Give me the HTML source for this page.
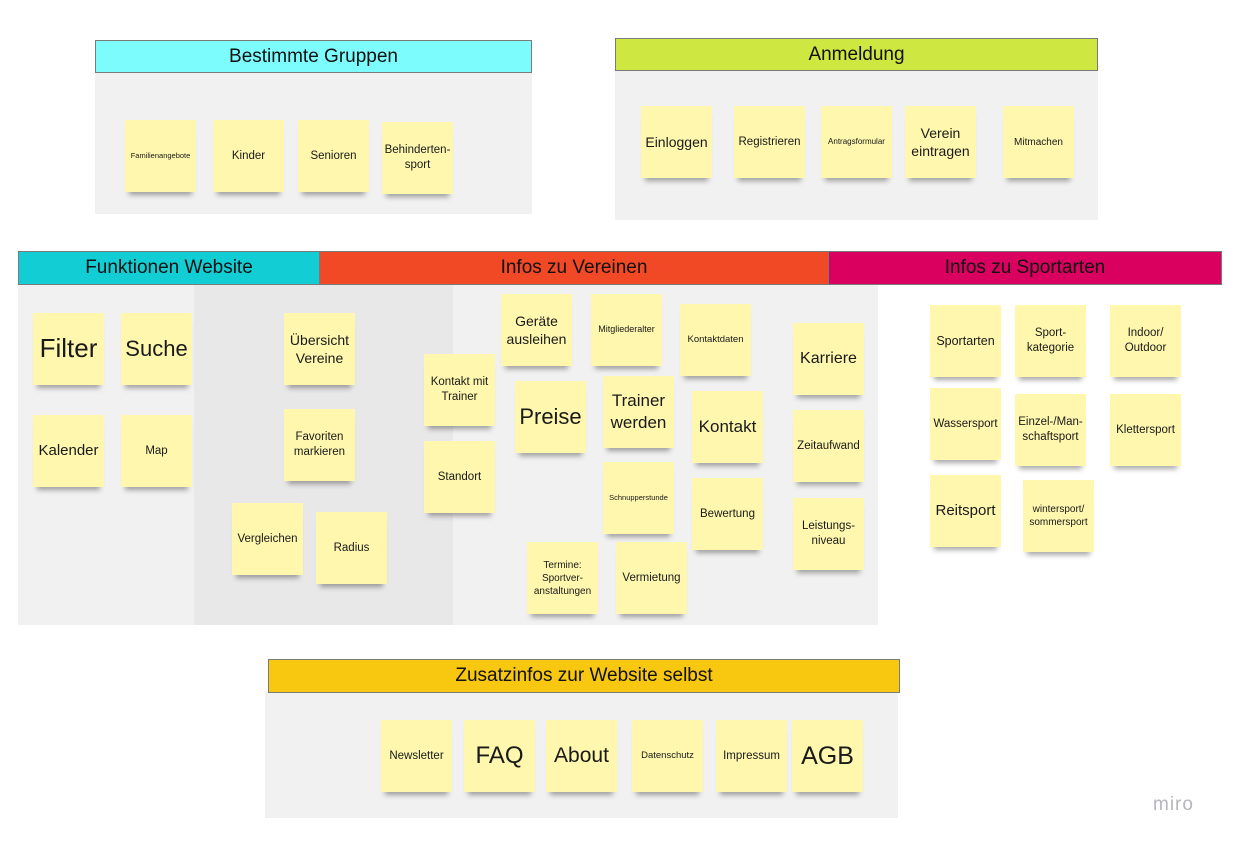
<!DOCTYPE html>
<html><head><meta charset="utf-8"><style>
body{margin:0;width:1240px;height:843px;background:#fff;position:relative;overflow:hidden;font-family:"Liberation Sans",sans-serif;color:#1a1a1a}
.a{position:absolute}
.h{position:absolute;box-sizing:border-box;border:1px solid #7a7a7a;display:flex;align-items:center;justify-content:center;font-size:19px;color:#111}
.p{position:absolute;background:#f1f1f1}
.s{position:absolute;width:71px;height:72px;background:#fef7ad;display:flex;align-items:center;justify-content:center;text-align:center;font-size:11.5px;line-height:1.3;box-shadow:0 7px 5px -4px rgba(0,0,0,0.35)}
</style></head><body>
<div class="p" style="left:95px;top:72px;width:437px;height:142px"></div>
<div class="h" style="left:95px;top:40px;width:437px;height:33px;background:#7dfcfe">Bestimmte Gruppen</div>
<div class="s" style="left:125px;top:120px;font-size:7.5px">Familienangebote</div>
<div class="s" style="left:213px;top:120px">Kinder</div>
<div class="s" style="left:298px;top:120px">Senioren</div>
<div class="s" style="left:382px;top:122px">Behinderten-<br>sport</div>

<div class="p" style="left:615px;top:70px;width:483px;height:150px"></div>
<div class="h" style="left:615px;top:38px;width:483px;height:33px;background:#cee841">Anmeldung</div>
<div class="s" style="left:641px;top:106px;font-size:14px">Einloggen</div>
<div class="s" style="left:734px;top:106px">Registrieren</div>
<div class="s" style="left:821px;top:106px;font-size:8px">Antragsformular</div>
<div class="s" style="left:905px;top:106px;font-size:14px">Verein<br>eintragen</div>
<div class="s" style="left:1003px;top:106px;font-size:10px">Mitmachen</div>

<div class="p" style="left:18px;top:284px;width:860px;height:341px"></div>
<div class="a" style="left:194px;top:284px;width:259px;height:341px;background:#e8e8e8"></div>
<div class="h" style="left:18px;top:251px;width:302px;height:34px;background:#12cdd4">Funktionen Website</div>
<div class="h" style="left:319px;top:251px;width:510px;height:34px;background:#f14926">Infos zu Vereinen</div>
<div class="h" style="left:828px;top:251px;width:394px;height:34px;background:#da0060">Infos zu Sportarten</div>

<div class="s" style="left:33px;top:313px;font-size:26px">Filter</div>
<div class="s" style="left:121px;top:313px;font-size:22px">Suche</div>
<div class="s" style="left:33px;top:415px;font-size:15px">Kalender</div>
<div class="s" style="left:121px;top:415px">Map</div>
<div class="s" style="left:284px;top:313px;font-size:14px">Übersicht<br>Vereine</div>
<div class="s" style="left:284px;top:409px">Favoriten<br>markieren</div>
<div class="s" style="left:232px;top:503px">Vergleichen</div>
<div class="s" style="left:316px;top:512px">Radius</div>
<div class="s" style="left:424px;top:354px">Kontakt mit<br>Trainer</div>
<div class="s" style="left:424px;top:441px">Standort</div>
<div class="s" style="left:501px;top:294px;font-size:14px">Geräte<br>ausleihen</div>
<div class="s" style="left:591px;top:294px;font-size:9px">Mitgliederalter</div>
<div class="s" style="left:515px;top:381px;font-size:22px">Preise</div>
<div class="s" style="left:603px;top:376px;font-size:17px">Trainer<br>werden</div>
<div class="s" style="left:680px;top:304px;font-size:9.5px">Kontaktdaten</div>
<div class="s" style="left:692px;top:391px;font-size:17px">Kontakt</div>
<div class="s" style="left:603px;top:462px;font-size:7.5px">Schnupperstunde</div>
<div class="s" style="left:692px;top:478px">Bewertung</div>
<div class="s" style="left:527px;top:542px;font-size:10px">Termine:<br>Sportver-<br>anstaltungen</div>
<div class="s" style="left:616px;top:542px">Vermietung</div>
<div class="s" style="left:793px;top:323px;font-size:16px">Karriere</div>
<div class="s" style="left:793px;top:410px">Zeitaufwand</div>
<div class="s" style="left:793px;top:498px">Leistungs-<br>niveau</div>

<div class="s" style="left:930px;top:305px;font-size:12.5px">Sportarten</div>
<div class="s" style="left:1015px;top:305px">Sport-<br>kategorie</div>
<div class="s" style="left:1110px;top:305px">Indoor/<br>Outdoor</div>
<div class="s" style="left:930px;top:388px">Wassersport</div>
<div class="s" style="left:1015px;top:394px">Einzel-/Man-<br>schaftsport</div>
<div class="s" style="left:1110px;top:394px">Klettersport</div>
<div class="s" style="left:930px;top:475px;font-size:15px">Reitsport</div>
<div class="s" style="left:1023px;top:480px;font-size:10px">wintersport/<br>sommersport</div>

<div class="p" style="left:265px;top:692px;width:633px;height:126px"></div>
<div class="h" style="left:268px;top:659px;width:632px;height:34px;background:#f8c70f">Zusatzinfos zur Website selbst</div>
<div class="s" style="left:381px;top:720px">Newsletter</div>
<div class="s" style="left:464px;top:720px;font-size:24px">FAQ</div>
<div class="s" style="left:546px;top:720px;font-size:21px">About</div>
<div class="s" style="left:632px;top:720px;font-size:9.5px">Datenschutz</div>
<div class="s" style="left:716px;top:720px">Impressum</div>
<div class="s" style="left:792px;top:720px;font-size:25px">AGB</div>

<div class="a" style="left:1153px;top:794px;font-size:19px;color:#b5b5bd;letter-spacing:1px">miro</div>
</body></html>
